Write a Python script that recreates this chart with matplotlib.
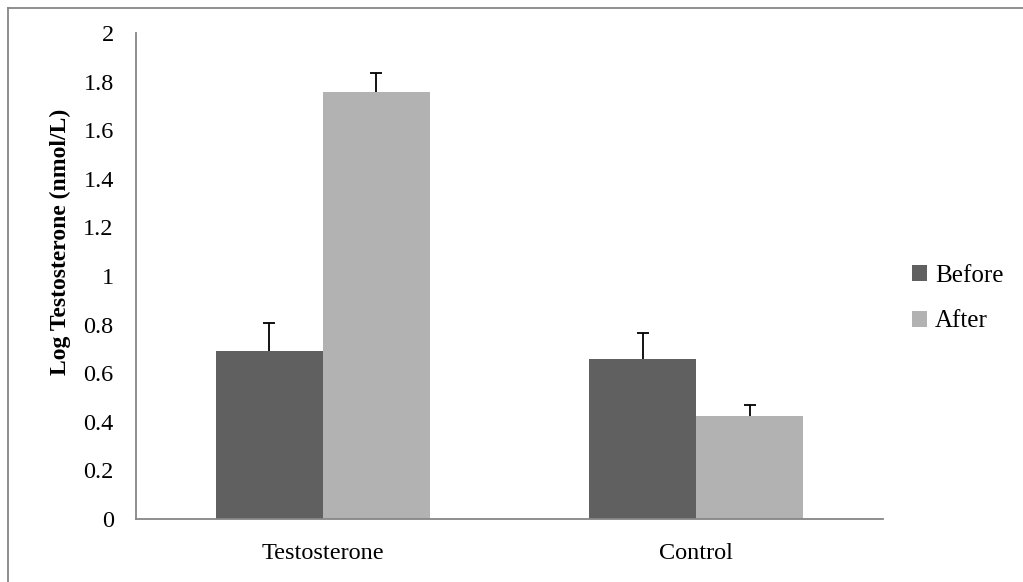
import matplotlib.pyplot as plt
import numpy as np
from matplotlib.lines import Line2D

# data
groups = ["Testosterone", "Control"]
before = np.array([0.69, 0.658])
after = np.array([1.756, 0.424])
before_err = np.array([0.115, 0.106])
after_err = np.array([0.078, 0.046])

plt.rcParams.update({
    "font.family": "Liberation Serif",
    "font.size": 17.5
})

fig = plt.figure(figsize=(10.23, 5.82), dpi=100)
ax = fig.add_axes([0.1329, 0.1082, 0.7302, 0.8351])

x = np.arange(len(groups))
width = 0.286

ekw = dict(ecolor="black", elinewidth=1.3, capsize=4.3, capthick=1.3)
b1 = ax.bar(x - width/2, before, width, color="#606060", label="Before",
            yerr=[np.zeros_like(before_err), before_err], error_kw=ekw)
b2 = ax.bar(x + width/2, after, width, color="#b2b2b2", label="After",
            yerr=[np.zeros_like(after_err), after_err], error_kw=ekw)

# keep only the upper caps
for bars, h in [(b1, before), (b2, after)]:
    for cap in bars.errorbar.lines[1]:
        if np.allclose(cap.get_ydata(), h):
            cap.set_visible(False)

ax.set_xlim(-0.5, 1.5)
ax.set_ylim(0, 2)
ax.set_yticks(np.arange(0, 2.01, 0.2))
ax.set_yticklabels(["0", "0.2", "0.4", "0.6", "0.8", "1", "1.2", "1.4", "1.6", "1.8", "2"])
ax.set_xticks(x)
ax.set_xticklabels(groups)
ax.tick_params(axis="both", length=0)
ax.tick_params(axis="y", pad=16)
ax.tick_params(axis="x", pad=17)

ax.set_ylabel("Log Testosterone (nmol/L)", fontweight="bold", fontsize=17)
ax.yaxis.set_label_coords(-0.087, 0.57)

for side in ["top", "right"]:
    ax.spines[side].set_visible(False)
for side in ["left", "bottom"]:
    ax.spines[side].set_color("#868686")
    ax.spines[side].set_linewidth(1.3)

ax.legend(loc="center left", bbox_to_anchor=(0.882, 0.487), bbox_transform=fig.transFigure,
          frameon=False, handlelength=0.6, handleheight=0.6, handletextpad=0.3,
          labelspacing=0.95, fontsize=18, borderaxespad=0)

# outer chart frame
fw, fh = 1023, 582
fig.add_artist(Line2D([7.5/fw, 7.5/fw], [0, 1 - 7.5/fh], color="#868686", lw=1.3,
                      transform=fig.transFigure))
fig.add_artist(Line2D([7.5/fw, 1], [1 - 7.5/fh, 1 - 7.5/fh], color="#868686", lw=1.3,
                      transform=fig.transFigure))

plt.savefig("out.png", dpi=100)
